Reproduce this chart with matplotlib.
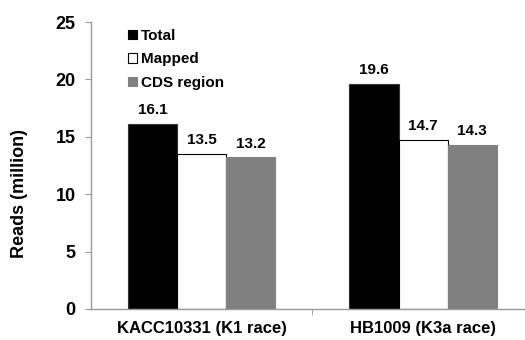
import numpy as np
import matplotlib.pyplot as plt
from matplotlib.patches import Patch

plt.rcParams['font.family'] = ['Liberation Sans', 'DejaVu Sans']
plt.rcParams['font.weight'] = 'bold'

strains = ['KACC10331 (K1 race)', 'HB1009 (K3a race)']
series = ['Total', 'Mapped', 'CDS region']
total = [16.1, 19.6]
mapped = [13.5, 14.7]
cds = [13.2, 14.3]

face = ['black', 'white', '#808080']
edge = ['#333333', 'black', '#808080']

fig = plt.figure(figsize=(5.25, 3.4), dpi=100)
ax = fig.add_axes([0.173, 0.0912, 0.827, 0.844])

x = np.arange(len(strains))
w = 0.222
for i, (vals, name) in enumerate(zip([total, mapped, cds], series)):
    pos = x + (i - 1) * w
    ax.bar(pos, vals, width=w, color=face[i], edgecolor=edge[i],
           linewidth=0.8, label=name, zorder=2)
    for p, v in zip(pos, vals):
        ax.annotate(f'{v:.1f}', (p, v), xytext=(0, 5), textcoords='offset points',
                    ha='center', va='bottom', fontsize=11, fontweight='bold')

ax.set_xlim(-0.5, 1.46)
ax.set_ylim(0, 25)
ax.set_yticks([0, 5, 10, 15, 20, 25])
ax.set_xticks(x)
ax.set_xticklabels(strains, fontsize=12, fontweight='bold')
ax.set_xticks([0.5], minor=True)
ax.tick_params(axis='x', which='major', length=0, pad=9)
ax.tick_params(axis='x', which='minor', length=4, color='#999999')
ax.tick_params(axis='y', length=4, color='#999999', pad=7, labelsize=13)
for t in ax.get_yticklabels():
    t.set_fontweight('bold')
ax.set_ylabel('Reads (million)', fontsize=13, fontweight='bold')
ax.yaxis.set_label_coords(-0.164, 0.404)
ax.yaxis.label.set_verticalalignment('center')

for s in ['top', 'right']:
    ax.spines[s].set_visible(False)
for s in ['left', 'bottom']:
    ax.spines[s].set_color('#999999')
    ax.spines[s].set_linewidth(1.0)

handles = [Patch(facecolor=face[i], edgecolor='black' if i == 1 else face[i],
                 linewidth=0.8, label=series[i]) for i in range(3)]
ax.legend(handles=handles, loc='upper left', bbox_to_anchor=(0.062, 1.013),
          frameon=False, handlelength=0.55, handleheight=0.6, handletextpad=0.25,
          labelspacing=0.62, borderaxespad=0.3, prop={'weight': 'bold', 'size': 11})

fig.savefig('out.png', dpi=100)
